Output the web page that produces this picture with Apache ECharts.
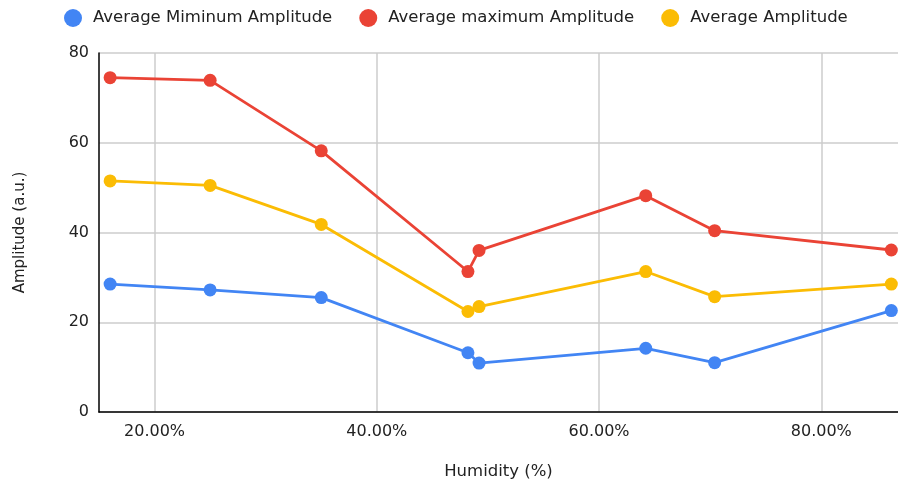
<!DOCTYPE html>
<html>
<head>
<meta charset="utf-8">
<script src="https://cdn.jsdelivr.net/npm/echarts@6/dist/echarts.min.js"></script>
<style>html,body{margin:0;padding:0;background:#fff;}#chart{width:898px;height:483px;}</style>
</head>
<body>
<div id="chart"></div>
<script>
const humidity = [16.0, 25.0, 35.0, 48.2, 49.2, 64.2, 70.4, 86.3];
const avgMin = [28.5, 27.2, 25.5, 13.2, 10.9, 14.2, 11.0, 22.6];
const avgMax = [74.5, 73.9, 58.2, 31.3, 36.0, 48.2, 40.4, 36.1];
const avgAmp = [51.5, 50.5, 41.8, 22.4, 23.5, 31.3, 25.7, 28.5];
const xTicks = [20, 40, 60, 80];
const seriesNames = ['Average Miminum Amplitude', 'Average maximum Amplitude', 'Average Amplitude'];
const colors = ['#4285F4', '#EA4335', '#FBBC04'];

const FONT = 'DejaVu Sans';
const chart = echarts.init(document.getElementById('chart'), null, {renderer: 'canvas'});
const mk = (vals, i) => ({
  name: seriesNames[i],
  type: 'line',
  data: humidity.map((x, k) => [x, vals[k]]),
  symbol: 'circle',
  symbolSize: 13,
  lineStyle: {width: 2.8, color: colors[i]},
  itemStyle: {color: colors[i]},
  color: colors[i],
  clip: false,
  animation: false
});
chart.setOption({
  animation: false,
  color: colors,
  legend: {
    top: 4,
    left: 59,
    icon: 'circle',
    itemWidth: 18,
    itemHeight: 18,
    itemGap: 27,
    textStyle: {fontFamily: FONT, fontSize: 16.5, color: '#222', padding: [0, 0, 0, 6]},
    data: seriesNames
  },
  grid: {left: 99, top: 53, right: 0, bottom: 71, containLabel: false, outerBoundsMode: 'none'},
  xAxis: {
    type: 'value',
    min: 15,
    max: 86.9,
    name: 'Humidity (%)',
    nameLocation: 'middle',
    nameGap: 51,
    nameTextStyle: {fontFamily: FONT, fontSize: 16.5, color: '#222'},
    axisLine: {show: true, onZero: false, lineStyle: {color: '#000', width: 1.5}},
    axisTick: {show: false, customValues: xTicks},
    axisLabel: {customValues: xTicks, fontFamily: FONT, fontSize: 16, color: '#222', margin: 12,
      formatter: v => v.toFixed(2) + '%'},
    splitLine: {show: true, lineStyle: {color: '#cccccc', width: 1.5}}
  },
  yAxis: {
    type: 'value',
    min: 0,
    max: 80,
    interval: 20,
    name: 'Amplitude (a.u.)',
    nameLocation: 'middle',
    nameGap: 71,
    nameTextStyle: {fontFamily: FONT, fontSize: 15, color: '#222'},
    axisLine: {show: true, lineStyle: {color: '#000', width: 1.5}},
    axisTick: {show: false},
    axisLabel: {fontFamily: FONT, fontSize: 16, color: '#222', margin: 10},
    splitLine: {show: true, lineStyle: {color: '#cccccc', width: 1.5}}
  },
  series: [mk(avgMin, 0), mk(avgMax, 1), mk(avgAmp, 2)]
});
</script>
</body>
</html>
